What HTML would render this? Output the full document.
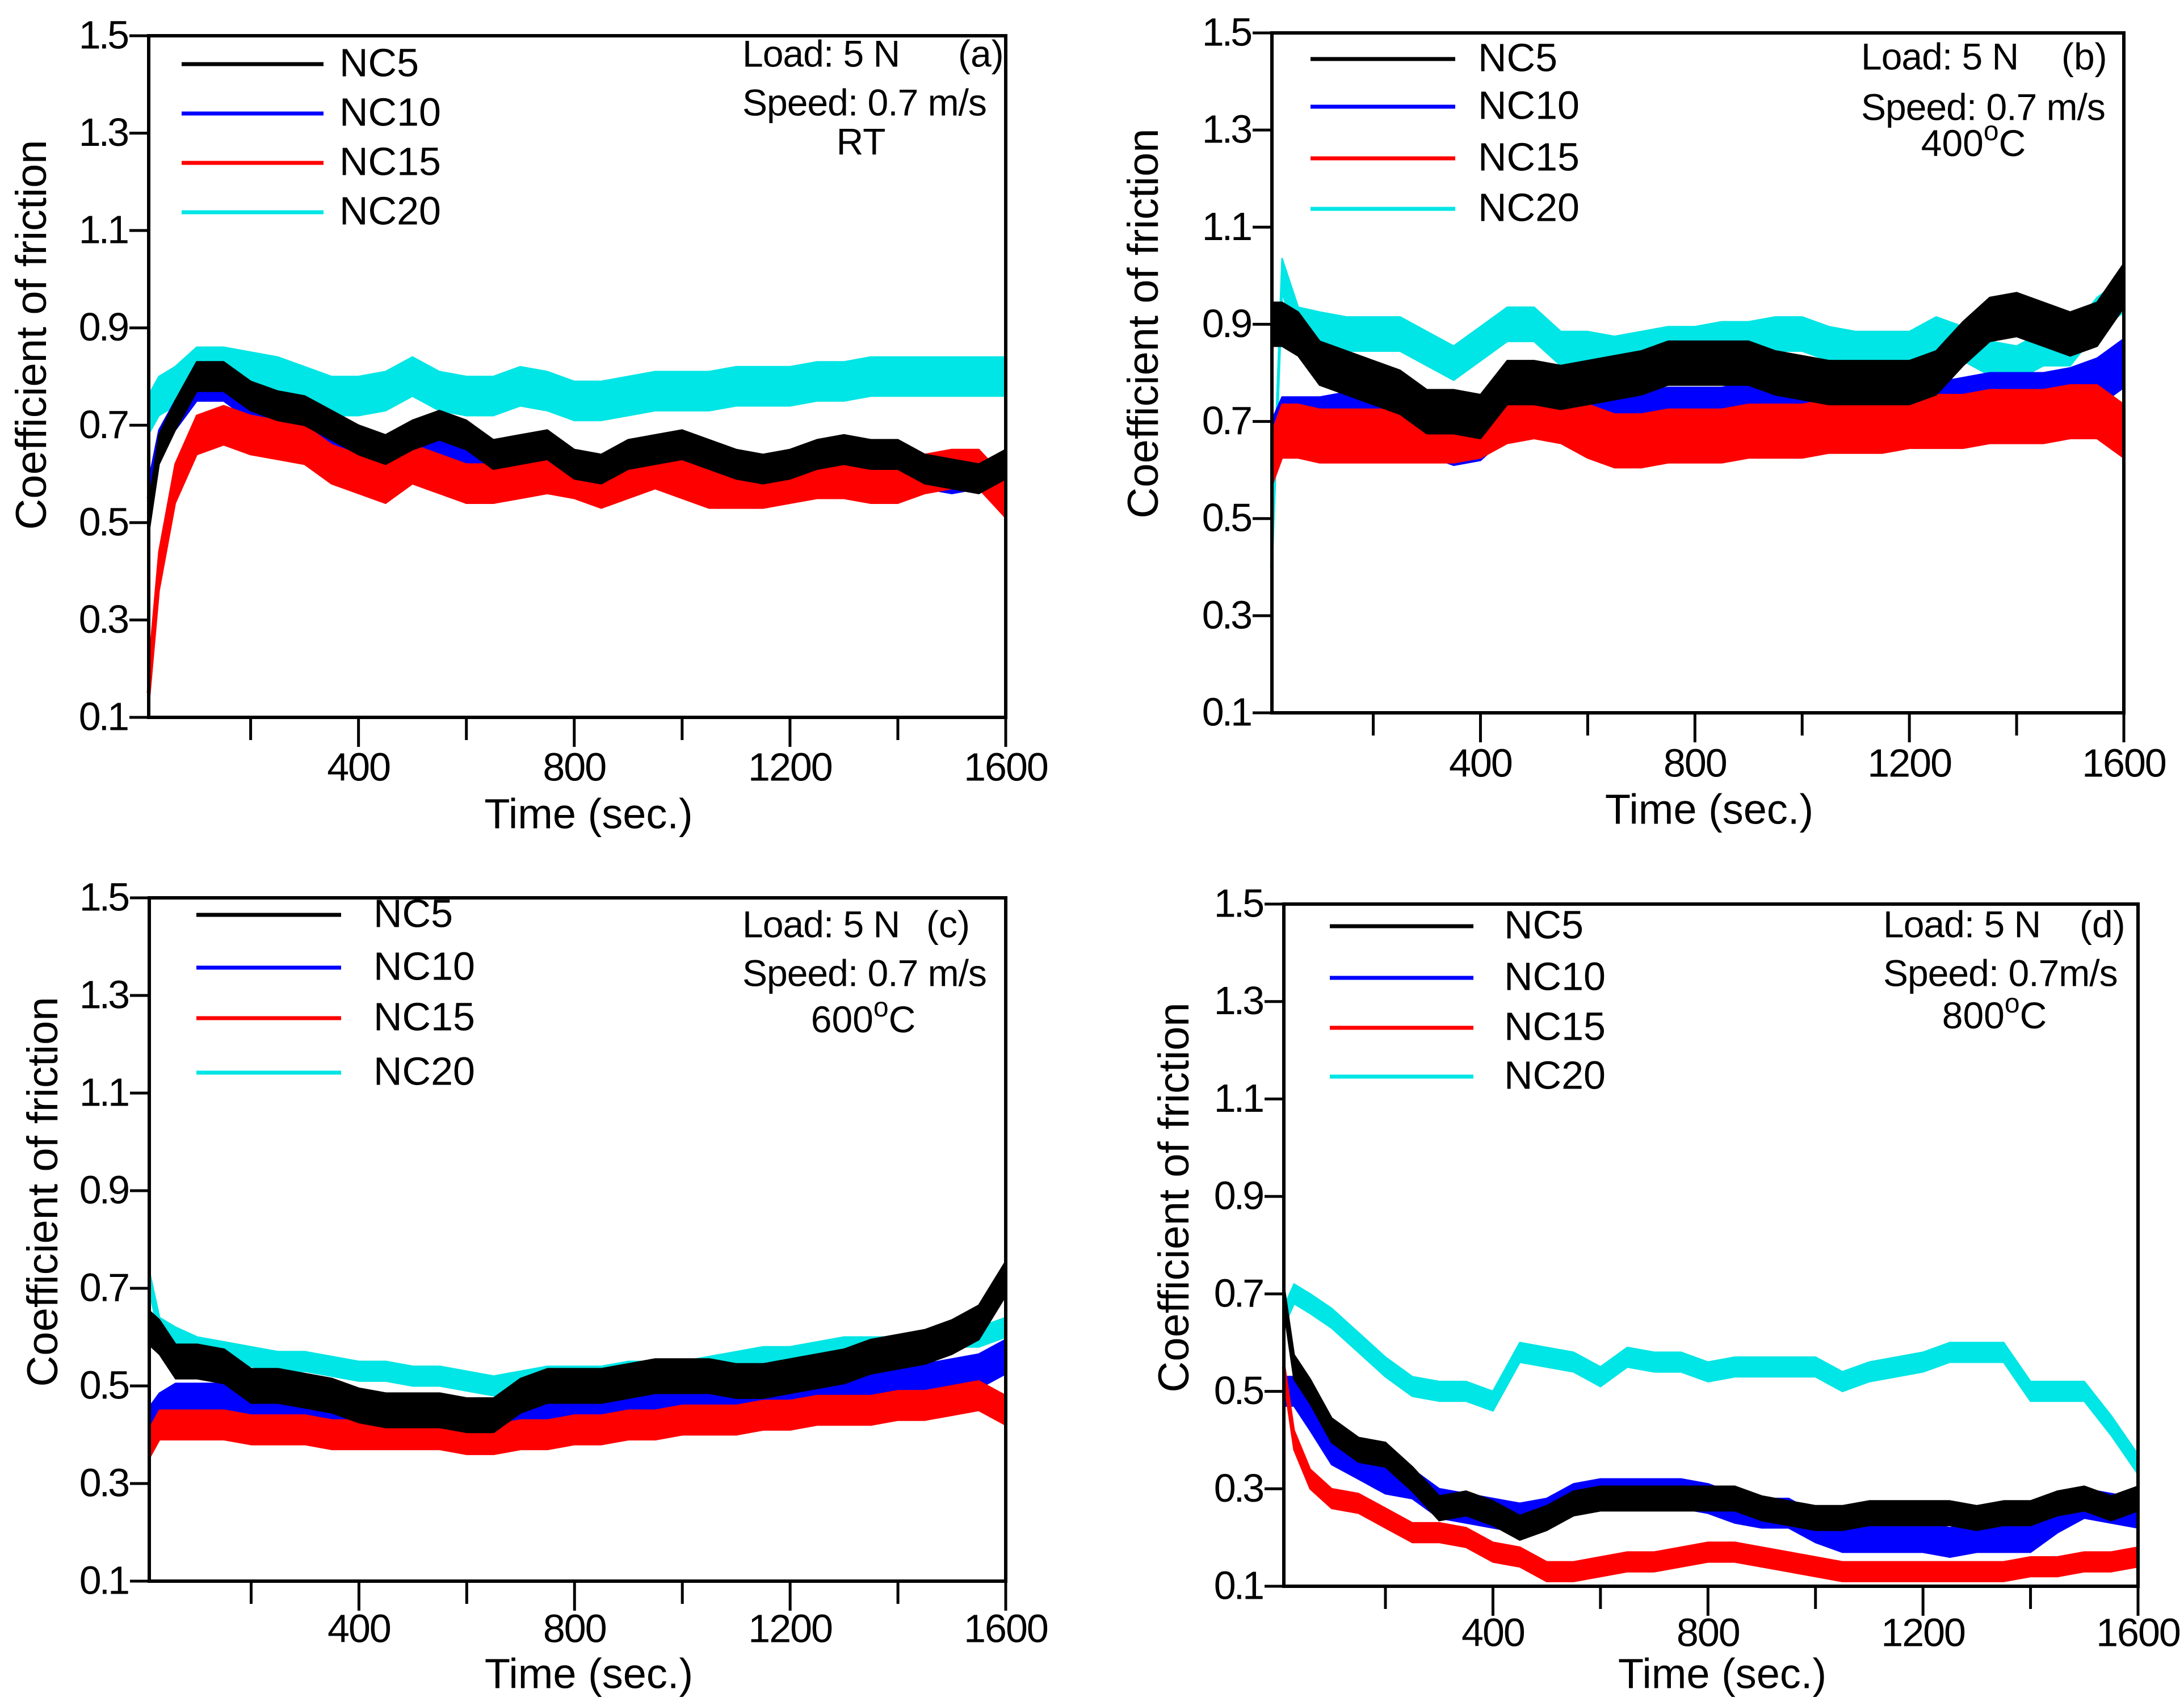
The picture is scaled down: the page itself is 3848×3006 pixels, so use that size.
<!DOCTYPE html>
<html>
<head>
<meta charset="utf-8">
<style>
  html, body { margin: 0; padding: 0; background: #fff; }
  svg { display: block; }
  text { font-family: "Liberation Sans", "DejaVu Sans", sans-serif; fill: #000; }
</style>
</head>
<body>
<svg id="fig" xmlns="http://www.w3.org/2000/svg" width="3848" height="3006" viewBox="0 0 3848 3006"></svg>
<script>
// ---- data ----
const times = [10,30,60,100,150,200,250,300,350,400,450,500,550,600,650,700,750,800,850,900,950,1000,1050,1100,1150,1200,1250,1300,1350,1400,1450,1500,1550,1600];
const seriesNames = ["NC5","NC10","NC15","NC20"];
const yTicks = [0.1,0.3,0.5,0.7,0.9,1.1,1.3,1.5];
const yTickLabels = ["0.1","0.3","0.5","0.7","0.9","1.1","1.3","1.5"];
const xMajorTicks = [400,800,1200,1600];
const xMajorLabels = ["400","800","1200","1600"];
const xMinorTicks = [200,600,1000,1400];

const a_NC5  = [0.50,0.65,0.72,0.80,0.80,0.76,0.74,0.73,0.70,0.67,0.65,0.68,0.70,0.68,0.64,0.65,0.66,0.62,0.61,0.64,0.65,0.66,0.64,0.62,0.61,0.62,0.64,0.65,0.64,0.64,0.61,0.60,0.59,0.62];
const a_NC10 = [0.55,0.66,0.72,0.78,0.78,0.74,0.72,0.70,0.66,0.64,0.62,0.66,0.67,0.64,0.62,0.62,0.63,0.60,0.58,0.60,0.62,0.62,0.61,0.60,0.59,0.60,0.61,0.62,0.62,0.61,0.60,0.59,0.60,0.55];
const a_NC15 = [0.15,0.40,0.58,0.68,0.70,0.68,0.67,0.66,0.62,0.60,0.58,0.62,0.60,0.58,0.58,0.59,0.60,0.59,0.57,0.59,0.61,0.59,0.57,0.57,0.57,0.58,0.59,0.59,0.58,0.58,0.60,0.61,0.61,0.55];
const a_NC20 = [0.72,0.76,0.78,0.82,0.82,0.81,0.80,0.78,0.76,0.76,0.77,0.80,0.77,0.76,0.76,0.78,0.77,0.75,0.75,0.76,0.77,0.77,0.77,0.78,0.78,0.78,0.79,0.79,0.80,0.80,0.80,0.80,0.80,0.80];

const b_NC5  = [0.90,0.90,0.88,0.82,0.80,0.78,0.76,0.72,0.72,0.71,0.78,0.78,0.77,0.78,0.79,0.80,0.82,0.82,0.82,0.82,0.80,0.79,0.78,0.78,0.78,0.78,0.80,0.86,0.91,0.92,0.90,0.88,0.90,0.98];
const b_NC10 = [0.65,0.70,0.70,0.70,0.71,0.70,0.70,0.68,0.66,0.67,0.72,0.73,0.73,0.71,0.70,0.71,0.72,0.72,0.72,0.73,0.73,0.72,0.72,0.72,0.72,0.73,0.73,0.74,0.75,0.75,0.75,0.76,0.78,0.82];
const b_NC15 = [0.62,0.68,0.68,0.67,0.67,0.67,0.67,0.67,0.67,0.68,0.71,0.72,0.71,0.68,0.66,0.66,0.67,0.67,0.67,0.68,0.68,0.68,0.69,0.69,0.69,0.70,0.70,0.70,0.71,0.71,0.71,0.72,0.72,0.68];
const b_NC20 = [0.40,1.00,0.90,0.89,0.88,0.88,0.88,0.85,0.82,0.86,0.90,0.90,0.85,0.85,0.84,0.85,0.86,0.86,0.87,0.87,0.88,0.88,0.86,0.85,0.85,0.85,0.88,0.86,0.83,0.82,0.85,0.85,0.92,0.96];

const c_NC5  = [0.62,0.60,0.55,0.55,0.54,0.50,0.50,0.49,0.48,0.46,0.45,0.45,0.45,0.44,0.44,0.48,0.50,0.50,0.50,0.51,0.52,0.52,0.52,0.51,0.51,0.52,0.53,0.54,0.56,0.57,0.58,0.60,0.63,0.72];
const c_NC10 = [0.42,0.45,0.47,0.47,0.47,0.46,0.46,0.45,0.45,0.44,0.44,0.44,0.44,0.43,0.43,0.44,0.45,0.45,0.46,0.46,0.47,0.47,0.47,0.47,0.48,0.48,0.49,0.50,0.50,0.51,0.51,0.52,0.53,0.56];
const c_NC15 = [0.38,0.42,0.42,0.42,0.42,0.41,0.41,0.41,0.40,0.40,0.40,0.40,0.40,0.39,0.39,0.40,0.40,0.41,0.41,0.42,0.42,0.43,0.43,0.43,0.44,0.44,0.45,0.45,0.45,0.46,0.46,0.47,0.48,0.45];
const c_NC20 = [0.72,0.62,0.60,0.58,0.57,0.56,0.55,0.55,0.54,0.53,0.53,0.52,0.52,0.51,0.50,0.51,0.52,0.52,0.52,0.53,0.53,0.53,0.54,0.55,0.56,0.56,0.57,0.58,0.58,0.58,0.59,0.60,0.60,0.62];

const d_NC5  = [0.70,0.55,0.50,0.42,0.38,0.37,0.32,0.26,0.27,0.25,0.22,0.24,0.27,0.28,0.28,0.28,0.28,0.28,0.28,0.26,0.25,0.24,0.24,0.25,0.25,0.25,0.25,0.24,0.25,0.25,0.27,0.28,0.26,0.28];
const d_NC10 = [0.50,0.50,0.45,0.38,0.35,0.32,0.31,0.27,0.26,0.25,0.24,0.25,0.28,0.29,0.29,0.29,0.29,0.28,0.26,0.25,0.25,0.22,0.20,0.20,0.20,0.20,0.19,0.20,0.20,0.20,0.24,0.27,0.26,0.25];
const d_NC15 = [0.55,0.40,0.32,0.28,0.27,0.24,0.21,0.21,0.20,0.17,0.16,0.13,0.13,0.14,0.15,0.15,0.16,0.17,0.17,0.16,0.15,0.14,0.13,0.13,0.13,0.13,0.13,0.13,0.13,0.14,0.14,0.15,0.15,0.16];
const d_NC20 = [0.65,0.70,0.68,0.65,0.60,0.55,0.51,0.50,0.50,0.48,0.58,0.57,0.56,0.53,0.57,0.56,0.56,0.54,0.55,0.55,0.55,0.55,0.52,0.54,0.55,0.56,0.58,0.58,0.58,0.50,0.50,0.50,0.43,0.35];

const a_amp = [0.03,0.03,0.04,0.04];
const b_amp = [0.045,0.05,0.055,0.035];
const c_amp = [0.035,0.035,0.03,0.02];
const d_amp = [0.025,0.03,0.02,0.02];

const colors = ["#000000","#0000ff","#ff0000","#00e5e5"];
const NS = "http://www.w3.org/2000/svg";
const svg = document.getElementById("fig");

const panels = [
  {id:"a", L:262, R:1772, T:63, B:1264, data:[a_NC5,a_NC10,a_NC15,a_NC20], amp:a_amp,
   leg:{x1:320,x2:570,tx:598,ys:[113,200,287,374]}, ann:{lx:1308,ly:100,tag:"(a)",tagx:1688,sy:186,cond:"RT",cx:1517,cy:255,speed:"Speed: 0.7 m/s",sup:false},
   ytx:61, yty:590, xlY:1357, xtY:1440},
  {id:"b", L:2241, R:3742, T:58, B:1256, data:[b_NC5,b_NC10,b_NC15,b_NC20], amp:b_amp,
   leg:{x1:2309,x2:2564,tx:2604,ys:[104,188,279,368]}, ann:{lx:3279,ly:105,tag:"(b)",tagx:3632,sy:194,cond:"400",cx:3477,cy:258,speed:"Speed: 0.7 m/s",sup:true},
   ytx:2020, yty:570, xlY:1350, xtY:1432},
  {id:"c", L:263, R:1772, T:1582, B:2786, data:[c_NC5,c_NC10,c_NC15,c_NC20], amp:c_amp,
   leg:{x1:346,x2:601,tx:658,ys:[1612,1705,1794,1890]}, ann:{lx:1308,ly:1634,tag:"(c)",tagx:1632,sy:1720,cond:"600",cx:1521,cy:1802,speed:"Speed: 0.7 m/s",sup:true},
   ytx:81, yty:2100, xlY:2875, xtY:2955},
  {id:"d", L:2262, R:3767, T:1593, B:2795, data:[d_NC5,d_NC10,d_NC15,d_NC20], amp:d_amp,
   leg:{x1:2343,x2:2596,tx:2650,ys:[1632,1723,1811,1897]}, ann:{lx:3318,ly:1634,tag:"(d)",tagx:3664,sy:1720,cond:"800",cx:3514,cy:1795,speed:"Speed: 0.7m/s",sup:true},
   ytx:2074, yty:2110, xlY:2882, xtY:2955}
];

function mk(tag, attrs, parent) {
  const e = document.createElementNS(NS, tag);
  for (const k in attrs) e.setAttribute(k, attrs[k]);
  (parent || svg).appendChild(e);
  return e;
}

const drawOrder = [3,1,2,0];

panels.forEach(p => {
  const g = mk("g", {});
  
  
  const t0 = 11, t1 = 1600;
  const xs = t => p.L + (t - t0) / (t1 - t0) * (p.R - p.L);
  const ys = v => p.B - (v - 0.1) / (1.4) * (p.B - p.T);

  drawOrder.forEach(si => {
    const vals = p.data[si], a = p.amp[si];
    let up = [], dn = [], mid = [];
    times.forEach((t, i) => {
      const v = vals[i];
      up.push(xs(t).toFixed(1) + "," + ys(Math.min(1.5, v + a)).toFixed(1));
      dn.push(xs(t).toFixed(1) + "," + ys(Math.max(0.1, v - a)).toFixed(1));
      mid.push(xs(t).toFixed(1) + "," + ys(v).toFixed(1));
    });
    const band = mk("polygon", {points: up.concat(dn.reverse()).join(" "), fill: colors[si], stroke: colors[si], "stroke-width": 3, "stroke-linejoin": "round"}, g);
    
    
    const line = mk("polyline", {points: mid.join(" "), fill: "none", stroke: colors[si], "stroke-width": 5, "stroke-linejoin": "round"}, g);
    
    
  });

  const frame = mk("rect", {x: p.L, y: p.T, width: p.R - p.L, height: p.B - p.T, fill: "none", stroke: "#000", "stroke-width": 6}, g);
  
  

  yTicks.forEach((v, i) => {
    const y = ys(v);
    const tk = mk("line", {x1: p.L - 34, x2: p.L, y1: y, y2: y, stroke: "#000", "stroke-width": 5}, g);
    
    
    const lb = mk("text", {x: p.L - 38, y: y + 4, "text-anchor": "end", "dominant-baseline": "middle", "font-size": 70, "letter-spacing": "-4"}, g);
    lb.textContent = yTickLabels[i];
    
    
  });

  xMajorTicks.forEach((t, i) => {
    const x = xs(t);
    const tk = mk("line", {x1: x, x2: x, y1: p.B, y2: p.B + 52, stroke: "#000", "stroke-width": 5}, g);
    
    
    const lb = mk("text", {x: x, y: p.xlY, "text-anchor": "middle", "dominant-baseline": "middle", "font-size": 70, "letter-spacing": "-2"}, g);
    lb.textContent = xMajorLabels[i];
    
    
  });
  xMinorTicks.forEach(t => {
    const x = xs(t);
    const tk = mk("line", {x1: x, x2: x, y1: p.B, y2: p.B + 40, stroke: "#000", "stroke-width": 5}, g);
    
    
  });

  const xt = mk("text", {x: (p.L + p.R) / 2 + 20, y: p.xtY, "text-anchor": "middle", "dominant-baseline": "middle", "font-size": 74}, g);
  xt.textContent = "Time (sec.)";
  
  
  const yt = mk("text", {x: 0, y: 0, "text-anchor": "middle", "dominant-baseline": "middle", "font-size": 76, transform: "translate(" + p.ytx + "," + p.yty + ") rotate(-90)"}, g);
  yt.textContent = "Coefficient of friction";
  
  

  seriesNames.forEach((n, si) => {
    const y = p.leg.ys[si];
    const ll = mk("line", {x1: p.leg.x1, x2: p.leg.x2, y1: y, y2: y, stroke: colors[si], "stroke-width": 7}, g);
    
    
    const lt = mk("text", {x: p.leg.tx, y: y + 3, "dominant-baseline": "middle", "font-size": 70}, g);
    lt.textContent = n;
    
    
  });

  const a = p.ann;
  const t1e = mk("text", {x: a.lx, y: a.ly, "dominant-baseline": "middle", "font-size": 66, "letter-spacing": "-1"}, g);
  t1e.textContent = "Load: 5 N";
  
  
  const tg = mk("text", {x: a.tagx, y: a.ly, "dominant-baseline": "middle", "font-size": 66}, g);
  tg.textContent = a.tag;
  
  
  const sp = mk("text", {x: a.lx, y: a.sy, "dominant-baseline": "middle", "font-size": 66, "letter-spacing": "-1"}, g);
  sp.textContent = a.speed;
  
  
  const cd = mk("text", {x: a.cx, y: a.cy, "text-anchor": "middle", "dominant-baseline": "middle", "font-size": 66}, g);
  
  
  if (a.sup) {
    const s1 = mk("tspan", {}, cd); s1.textContent = a.cond;
    const s2 = mk("tspan", {dy: -24, "font-size": 48}, cd); s2.textContent = "o";
    const s3 = mk("tspan", {dy: 24}, cd); s3.textContent = "C";
  } else {
    cd.textContent = a.cond;
  }
});
</script>
</body>
</html>
